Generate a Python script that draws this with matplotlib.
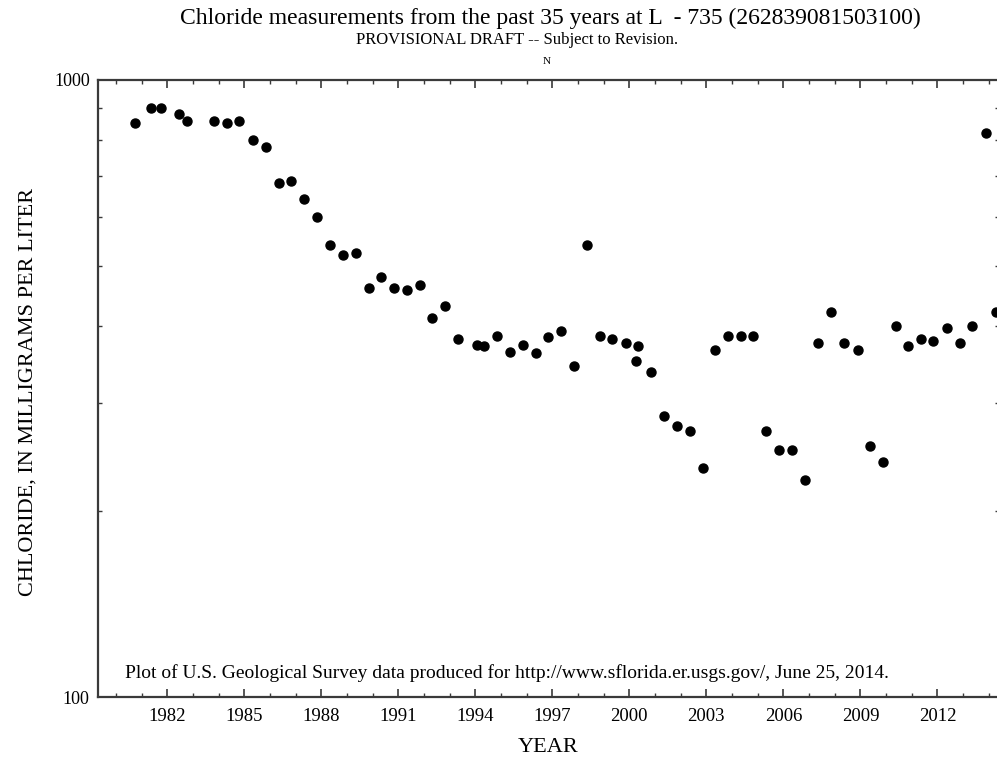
import matplotlib
matplotlib.use("Agg")
import matplotlib.pyplot as plt
from matplotlib.ticker import MultipleLocator, LogLocator, NullFormatter

plt.rcParams['font.family'] = ['Liberation Serif', 'DejaVu Serif']

# sample dates (decimal year) and chloride, mg/L
years = [1980.75, 1981.38, 1981.77, 1982.44, 1982.77, 1983.83, 1984.32, 1984.80,
         1985.34, 1985.86, 1986.34, 1986.83, 1987.34, 1987.84, 1988.34, 1988.84,
         1989.34, 1989.84, 1990.34, 1990.82, 1991.35, 1991.83, 1992.32, 1992.82,
         1993.34, 1994.07, 1994.35, 1994.84, 1995.34, 1995.84, 1996.35, 1996.85,
         1997.35, 1997.85, 1998.35, 1998.85, 1999.34, 1999.85, 2000.26, 2000.35,
         2000.84, 2001.34, 2001.86, 2002.35, 2002.86, 2003.35, 2003.84, 2004.35,
         2004.83, 2005.33, 2005.83, 2006.33, 2006.83, 2007.35, 2007.85, 2008.35,
         2008.90, 2009.37, 2009.88, 2010.37, 2010.87, 2011.37, 2011.84, 2012.39,
         2012.87, 2013.36, 2013.88, 2014.28]
chloride = [851, 900, 900, 880, 859, 859, 851, 859,
            799, 780, 680, 686, 641, 600, 540, 520,
            525, 460, 480, 460, 456, 465, 412, 430,
            380, 372, 370, 384, 362, 372, 361, 383,
            392, 344, 540, 385, 380, 375, 350, 371,
            336, 285, 275, 270, 235, 365, 385, 385,
            385, 270, 251, 251, 225, 375, 420, 375,
            365, 255, 240, 400, 370, 380, 378, 397,
            375, 400, 822, 421]

year_ticks = list(range(1982, 2013, 3))

W, H = 997, 759
fig = plt.figure(figsize=(W / 100, H / 100), dpi=100)
ax = fig.add_axes([98 / W, 1 - 697 / H, 901 / W, 617 / H])

ax.plot(years, chloride, 'o', color='black', markersize=6.5, clip_on=False)

ax.set_yscale('log')
ax.set_ylim(100, 1000)
ax.set_xlim(1979.3, 2014.4)

ax.set_xticks(year_ticks)
ax.set_xticklabels([str(y) for y in year_ticks])
ax.xaxis.set_minor_locator(MultipleLocator(1))
ax.set_yticks([100, 1000])
ax.set_yticklabels(['100', '1000'])
ax.yaxis.set_minor_locator(LogLocator(base=10, subs=range(2, 10)))
ax.yaxis.set_minor_formatter(NullFormatter())

edge = '#3a3a3a'
for s in ax.spines.values():
    s.set_color(edge)
    s.set_linewidth(1.6)
ax.tick_params(which='both', direction='in', top=True, right=True, color=edge)
ax.tick_params(axis='x', which='major', length=6, width=1.2, labelsize=13.5, pad=8)
ax.tick_params(axis='x', which='minor', length=3, width=1.0)
ax.tick_params(axis='y', which='major', length=6, width=1.2, labelsize=13, pad=6)
ax.tick_params(axis='y', which='minor', length=3, width=1.0)

fig.text(550 / W, 1 - 18 / H,
         'Chloride measurements from the past 35 years at L  - 735 (262839081503100)',
         ha='center', va='center', fontsize=17)
fig.text(517 / W, 1 - 40 / H, 'PROVISIONAL DRAFT -- Subject to Revision.',
         ha='center', va='center', fontsize=12)
fig.text(547 / W, 1 - 61 / H, 'N', ha='center', va='center', fontsize=8)
fig.text(125 / W, 1 - 673 / H,
         'Plot of U.S. Geological Survey data produced for http://www.sflorida.er.usgs.gov/, June 25, 2014.',
         ha='left', va='center', fontsize=14)
fig.text(28 / W, 1 - 392 / H, 'CHLORIDE, IN MILLIGRAMS PER LITER',
         rotation=90, ha='center', va='center', fontsize=16)
fig.text(548 / W, 1 - 747 / H, 'YEAR', ha='center', va='center', fontsize=16)

fig.savefig('out.png', dpi=100)
